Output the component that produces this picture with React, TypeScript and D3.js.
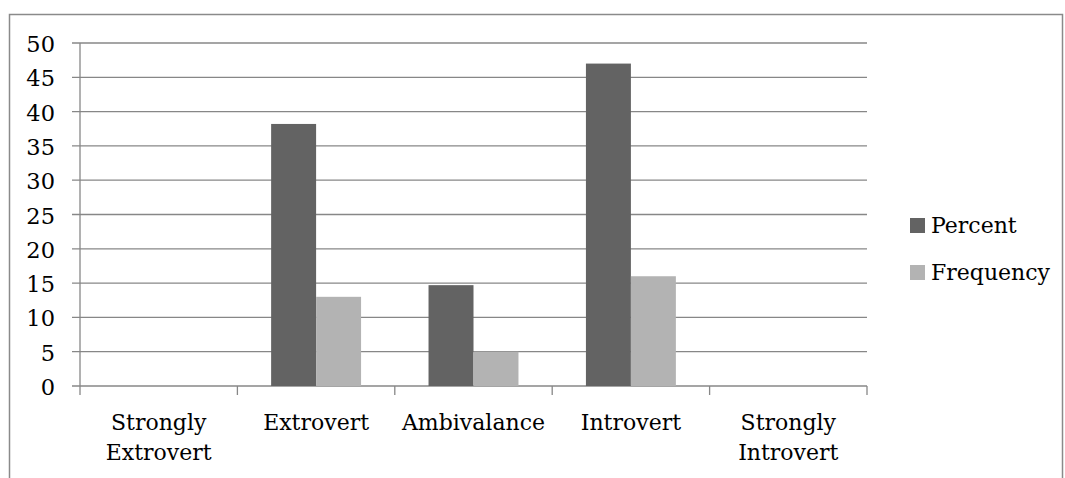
import React from "react";
import * as d3 from "d3";

// Categories along the x axis (line breaks kept as arrays)
const categories = [
  "Strongly Extrovert",
  "Extrovert",
  "Ambivalance",
  "Introvert",
  "Strongly Introvert",
];
const categoryLines = [
  ["Strongly", "Extrovert"],
  ["Extrovert"],
  ["Ambivalance"],
  ["Introvert"],
  ["Strongly", "Introvert"],
];

// Series values
const seriesNames = ["Percent", "Frequency"];
const percentValues = [0, 38.2, 14.7, 47, 0];
const frequencyValues = [0, 13, 5, 16, 0];
const yTicks = [0, 5, 10, 15, 20, 25, 30, 35, 40, 45, 50];

const colors = ["#636363", "#b3b3b3"];
const FONT = "'DejaVu Serif', serif";

export default function App() {
  const width = 1065;
  const height = 478;
  //Plot area
  const left = 80;
  const right = 867;
  const top = 43;
  const bottom = 386;

  const xScale = d3.scaleBand<string>().domain(categories).range([left, right]).padding(0);
  const inner = d3
    .scaleBand<string>()
    .domain(seriesNames)
    .range([0, xScale.bandwidth()])
    .paddingInner(0)
    .paddingOuter(0.75);
  const yScale = d3.scaleLinear().domain([0, 50]).range([bottom, top]);

  const seriesData = [percentValues, frequencyValues];
  const gridColor = "#878787";

  return (
    <svg
      width={width}
      height={height}
      style={{ position: "absolute", left: 0, top: 0, background: "#fff" }}
      fontFamily={FONT}
    >
      {/* outer frame */}
      <path d={`M9.5,${height}V14.5H1062.5V${height}`} fill="none" stroke="#8a8a8a" strokeWidth={1.5} />

      {/* gridlines and y ticks */}
      {yTicks.map((t) => (
        <g key={t}>
          <line x1={72} x2={right} y1={yScale(t)} y2={yScale(t)} stroke={gridColor} strokeWidth={1.3} />
          <text x={55} y={yScale(t) + 9} textAnchor="end" fontSize={22.5} fill="#000">
            {t}
          </text>
        </g>
      ))}

      {/* bars */}
      {seriesData.map((vals, si) =>
        vals.map((v, ci) =>
          v > 0 ? (
            <rect
              key={`${si}-${ci}`}
              x={(xScale(categories[ci]) as number) + (inner(seriesNames[si]) as number)}
              y={yScale(v)}
              width={inner.bandwidth()}
              height={yScale(0) - yScale(v)}
              fill={colors[si]}
            />
          ) : null
        )
      )}

      {/* y axis line */}
      <line x1={left} x2={left} y1={top} y2={bottom + 9} stroke={gridColor} strokeWidth={1.3} />

      {/* x axis category boundary ticks */}
      {categories.map((c) => (
        <line
          key={c}
          x1={(xScale(c) as number) + xScale.bandwidth()}
          x2={(xScale(c) as number) + xScale.bandwidth()}
          y1={bottom}
          y2={bottom + 9}
          stroke={gridColor}
          strokeWidth={1.3}
        />
      ))}

      {/* category labels */}
      {categoryLines.map((lines, i) => (
        <text
          key={i}
          x={(xScale(categories[i]) as number) + xScale.bandwidth() / 2}
          y={430}
          textAnchor="middle"
          fontSize={22}
          fill="#000"
        >
          {lines.map((l, j) => (
            <tspan key={j} x={(xScale(categories[i]) as number) + xScale.bandwidth() / 2} dy={j === 0 ? 0 : 30}>
              {l}
            </tspan>
          ))}
        </text>
      ))}

      {/* legend */}
      {seriesNames.map((s, i) => (
        <g key={s} transform={`translate(910,${218 + i * 47})`}>
          <rect x={0} y={0} width={15} height={15} fill={colors[i]} />
          <text x={21} y={15} fontSize={22} fill="#000">
            {s}
          </text>
        </g>
      ))}
    </svg>
  );
}
